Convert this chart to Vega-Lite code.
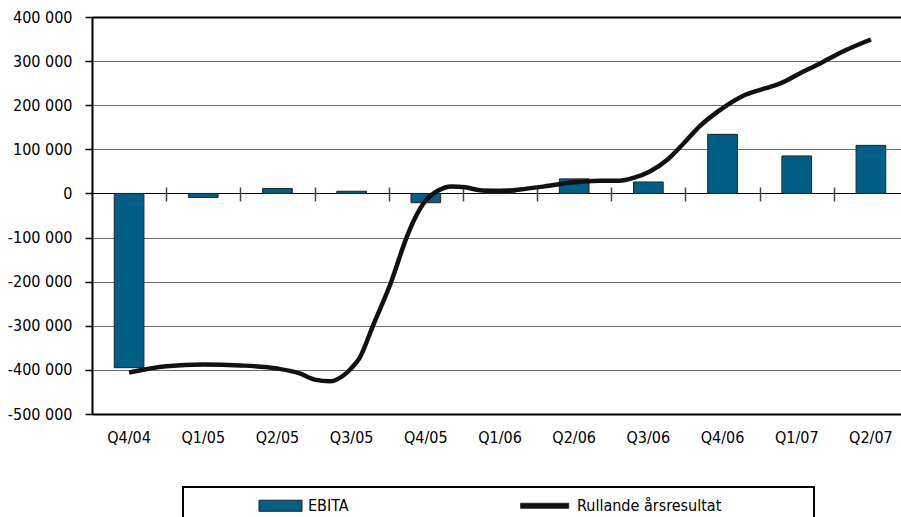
{
  "$schema": "https://vega.github.io/schema/vega-lite/v6.json",
  "width": 809,
  "height": 397,
  "autosize": {"type": "none"},
  "padding": {"left": 92, "top": 17, "right": 0, "bottom": 103},
  "background": "white",
  "config": {
    "view": {"stroke": null},
    "font": "DejaVu Sans Condensed, sans-serif",
    "axis": {"labelFont": "DejaVu Sans Condensed, sans-serif", "labelColor": "#000"},
    "legend": {"labelFont": "DejaVu Sans Condensed, sans-serif"}
  },
  "datasets": {
    "bars": [
      {"q": "Q4/04", "s": "EBITA", "v": -395000},
      {"q": "Q1/05", "s": "EBITA", "v": -9000},
      {"q": "Q2/05", "s": "EBITA", "v": 11000},
      {"q": "Q3/05", "s": "EBITA", "v": 5000},
      {"q": "Q4/05", "s": "EBITA", "v": -21000},
      {"q": "Q1/06", "s": "EBITA", "v": 10000},
      {"q": "Q2/06", "s": "EBITA", "v": 33000},
      {"q": "Q3/06", "s": "EBITA", "v": 26000},
      {"q": "Q4/06", "s": "EBITA", "v": 134000},
      {"q": "Q1/07", "s": "EBITA", "v": 85000},
      {"q": "Q2/07", "s": "EBITA", "v": 109000}
    ],
    "line": [
      {"t": 0, "v": -406000},
      {"t": 0.5, "v": -392000},
      {"t": 1, "v": -388000},
      {"t": 1.5, "v": -390000},
      {"t": 2, "v": -397000},
      {"t": 2.3, "v": -408000},
      {"t": 2.5, "v": -422000},
      {"t": 2.71, "v": -426000},
      {"t": 2.87, "v": -415000},
      {"t": 2.98, "v": -399000},
      {"t": 3.11, "v": -372000},
      {"t": 3.29, "v": -299000},
      {"t": 3.53, "v": -202000},
      {"t": 3.74, "v": -100000},
      {"t": 3.86, "v": -54000},
      {"t": 3.98, "v": -20000},
      {"t": 4.15, "v": 5000},
      {"t": 4.35, "v": 16000},
      {"t": 4.53, "v": 14000},
      {"t": 4.73, "v": 7000},
      {"t": 4.97, "v": 5000},
      {"t": 5.27, "v": 9000},
      {"t": 5.6, "v": 16000},
      {"t": 5.97, "v": 25000},
      {"t": 6.34, "v": 29000},
      {"t": 6.61, "v": 29000},
      {"t": 6.81, "v": 36000},
      {"t": 7.02, "v": 50000},
      {"t": 7.26, "v": 77000},
      {"t": 7.49, "v": 116000},
      {"t": 7.69, "v": 152000},
      {"t": 7.94, "v": 186000},
      {"t": 8.26, "v": 220000},
      {"t": 8.57, "v": 238000},
      {"t": 8.77, "v": 249000},
      {"t": 9.04, "v": 272000},
      {"t": 9.34, "v": 297000},
      {"t": 9.65, "v": 324000},
      {"t": 10, "v": 349000}
    ]
  },
  "encoding": {
    "y": {
      "field": "v",
      "type": "quantitative",
      "scale": {"domain": [-500000, 400000], "nice": false, "zero": false},
      "axis": {
        "title": null,
        "values": [-500000, -400000, -300000, -200000, -100000, 0, 100000, 200000, 300000, 400000],
        "labelExpr": "replace(replace(format(datum.value, ','), /,/g, ' '), '\u2212', '-')",
        "labelFontSize": 16,
        "labelPadding": 13,
        "tickSize": 7,
        "tickColor": "#000",
        "tickWidth": 1.5,
        "domainColor": "#000",
        "domainWidth": 2,
        "grid": true,
        "gridColor": {"condition": {"test": "datum.value === 0 || datum.value === 400000 || datum.value === -500000", "value": "#000"}, "value": "#6e6e6e"},
        "gridWidth": {"condition": {"test": "datum.value === 400000 || datum.value === -500000", "value": 2}, "value": 1.2},
        "gridOpacity": 1
      }
    }
  },
  "layer": [
    {
      "data": {"name": "bars"},
      "mark": {"type": "bar", "stroke": "#222", "strokeWidth": 1},
      "encoding": {
        "x": {
          "field": "q",
          "type": "nominal",
          "sort": null,
          "scale": {"paddingInner": 0.6, "paddingOuter": 0.3, "range": [0, 816]},
          "axis": {
            "orient": "bottom",
            "title": null,
            "domain": false,
            "ticks": false,
            "tickSize": 0,
            "labelAngle": 0,
            "labelFontSize": 16,
            "labelPadding": 15,
            "grid": false
          }
        },
        "color": {
          "field": "s",
          "type": "nominal",
          "scale": {"domain": ["EBITA", "Rullande årsresultat"], "range": ["#005f87", "#111111"]},
          "legend": {
            "orient": "none",
            "legendX": 91,
            "legendY": 470,
            "direction": "horizontal",
            "title": "\u00a0",
            "titleOrient": "right",
            "titlePadding": 83,
            "titleFontSize": 16,
            "fillColor": "white",
            "strokeColor": "#000",
            "padding": 10,
            "labelFontSize": 16,
            "labelColor": "#000",
            "labelLimit": 600,
            "symbolOffset": 79,
            "labelOffset": 19,
            "symbolType": "M-2.69,-0.69H2.69V0.69H-2.69Z",
            "symbolSize": 256,
            "symbolStrokeColor": "#222",
            "symbolStrokeWidth": 1,
            "columnPadding": 113,
            "encode": {
              "legend": {"update": {"strokeWidth": {"value": 2}}},
              "symbols": {
                "update": {
                  "shape": {"signal": "datum.value === 'EBITA' ? 'M-2.69,-0.69H2.69V0.69H-2.69Z' : 'M-3.6,-0.31H2.4V0.31H-3.6Z'"}
                }
              }
            }
          }
        }
      }
    },
    {
      "data": {"name": "line"},
      "mark": {"type": "line", "color": "#111", "strokeWidth": 4.5, "interpolate": "monotone"},
      "encoding": {
        "x": {
          "field": "t",
          "type": "quantitative",
          "scale": {"domain": [-0.5, 10.5], "nice": false, "zero": false, "range": [0, 816]},
          "axis": {
            "orient": "bottom",
            "title": null,
            "offset": -227,
            "values": [0.5, 1.5, 2.5, 3.5, 4.5, 5.5, 6.5, 7.5, 8.5, 9.5, 10.5],
            "labels": false,
            "domain": false,
            "grid": false,
            "ticks": true,
            "tickSize": 14,
            "tickColor": "#444",
            "tickWidth": 1.5
          }
        }
      }
    }
  ],
  "resolve": {"scale": {"x": "independent"}, "axis": {"x": "independent"}}
}
